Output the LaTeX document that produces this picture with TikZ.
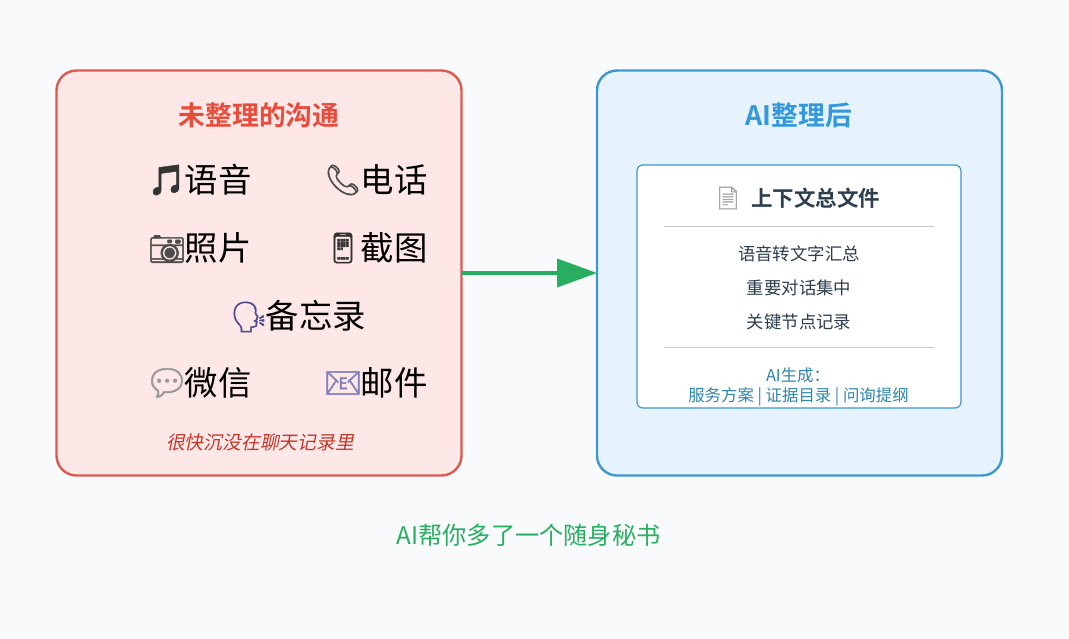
\documentclass[tikz,border=0pt]{standalone}
\usepackage{fontspec}
\usetikzlibrary{arrows.meta}
\newfontfamily\cjk{Noto Sans CJK SC}
\newfontfamily\cjkslant[FakeSlant=0.2]{Noto Sans CJK SC}
\newfontfamily\cjkbold[BoldFont={Noto Sans CJK SC Bold}]{Noto Sans CJK SC}
\newfontfamily\emojifont[FakeBold=1.5]{Noto Emoji}
\definecolor{pagebg}{HTML}{F8FAFC}
\definecolor{redline}{HTML}{DB5B50}
\definecolor{redfill}{HTML}{FDE8E7}
\definecolor{redtitle}{HTML}{E74C3C}
\definecolor{redcap}{HTML}{C0392B}
\definecolor{blueline}{HTML}{3F97CF}
\definecolor{bluefill}{HTML}{E6F3FC}
\definecolor{bluetitle}{HTML}{3498DB}
\definecolor{bluetext}{HTML}{2E86AB}
\definecolor{darktext}{HTML}{2C3E50}
\definecolor{greenc}{HTML}{27AE60}
\definecolor{rulec}{HTML}{C8C8C8}
\tikzset{
  x=1pt,y=-1pt,
  every node/.style={inner sep=0pt,outer sep=0pt},
  panel/.style={line width=2.4pt,rounded corners=20pt},
  itemtext/.style={font=\cjk\fontsize{33.4}{35}\selectfont,text=black},
  emo/.style={font=\emojifont\fontsize{30}{32}\selectfont},
  bodytext/.style={font=\cjk\fontsize{17.4}{20}\selectfont,text=darktext},
  aitext/.style={font=\cjk\fontsize{16.4}{20}\selectfont,text=bluetext},
  sep/.style={draw=rulec,line width=1pt},
}
\begin{document}
\begin{tikzpicture}
\useasboundingbox (0,0) rectangle (1069,638);
\fill[pagebg] (0,0) rectangle (1069,638);
\node[panel,draw=redline,fill=redfill,minimum width=405pt,minimum height=405pt] (left) at (259,273) {};
\node[panel,draw=blueline,fill=bluefill,minimum width=405pt,minimum height=405pt] (right) at (799.5,273) {};
\node[draw=blueline,fill=white,line width=1.2pt,rounded corners=6pt,minimum width=324pt,minimum height=243pt] (inner) at (799,286.5) {};
\draw[greenc,line width=4pt,-{Triangle[length=40pt,width=28pt]}] (left.east) -- (right.west);

\node[font=\cjkbold\bfseries\fontsize{26.8}{30}\selectfont,text=redtitle] (ltitle) at (259,115) {未整理的沟通};
\node[emo,text=black!80] (e1) at (166,180) {🎵};
\node[itemtext] (t1) at (218,180) {语音};
\node[emo,text=black!70] (e2) at (343,180) {📞};
\node[itemtext] (t2) at (394,180) {电话};
\node[emo,text=black!70] (e3) at (167,249) {📷};
\node[itemtext] (t3) at (218,248) {照片};
\node[emo,text=black!80] (e4) at (343,248) {📱};
\node[itemtext] (t4) at (394,248) {截图};
\node[emo,text=blue!40!black!70] (e5) at (249,317) {🗣};
\node[itemtext] (t5) at (316,316) {备忘录};
\node[font=\emojifont\fontsize{36}{38}\selectfont,text=black!40] (e6) at (167,383) {💬};
\node[itemtext] (t6) at (218,383) {微信};
\node[emo,text=blue!50!black!50] (e7) at (343,383) {📧};
\node[itemtext] (t7) at (394,383) {邮件};
\node[font=\cjkslant\fontsize{18.8}{22}\selectfont,text=redcap] (lcap) at (260,442) {很快沉没在聊天记录里};

\node[font=\cjkbold\bfseries\fontsize{26.8}{30}\selectfont,text=bluetitle] (rtitle) at (799,115) {AI整理后};
\node[font=\emojifont\fontsize{22}{24}\selectfont,text=black!35] (docicon) at (728,198) {📄};
\node[font=\cjkbold\bfseries\fontsize{21.5}{24}\selectfont,text=darktext] (doctitle) at (815.5,198) {上下文总文件};
\coordinate (s1a) at (664,226.5);
\coordinate (s1b) at (934,226.5);
\draw[sep] (s1a) -- (s1b);
\node[bodytext] (b1) at (799,254) {语音转文字汇总};
\node[bodytext] (b2) at (799,287.5) {重要对话集中};
\node[bodytext] (b3) at (799,321.5) {关键节点记录};
\coordinate (s2a) at (664,347.5);
\coordinate (s2b) at (934,347.5);
\draw[sep] (s2a) -- (s2b);
\node[aitext] (a1) at (798,375) {AI生成：};
\node[aitext] (a2) at (798.5,396.5) {服务方案 | 证据目录 | 问询提纲};

\node[font=\cjk\fontsize{24.2}{28}\selectfont,text=greenc] (foot) at (528.5,535) {AI帮你多了一个随身秘书};
\end{tikzpicture}
\end{document}
